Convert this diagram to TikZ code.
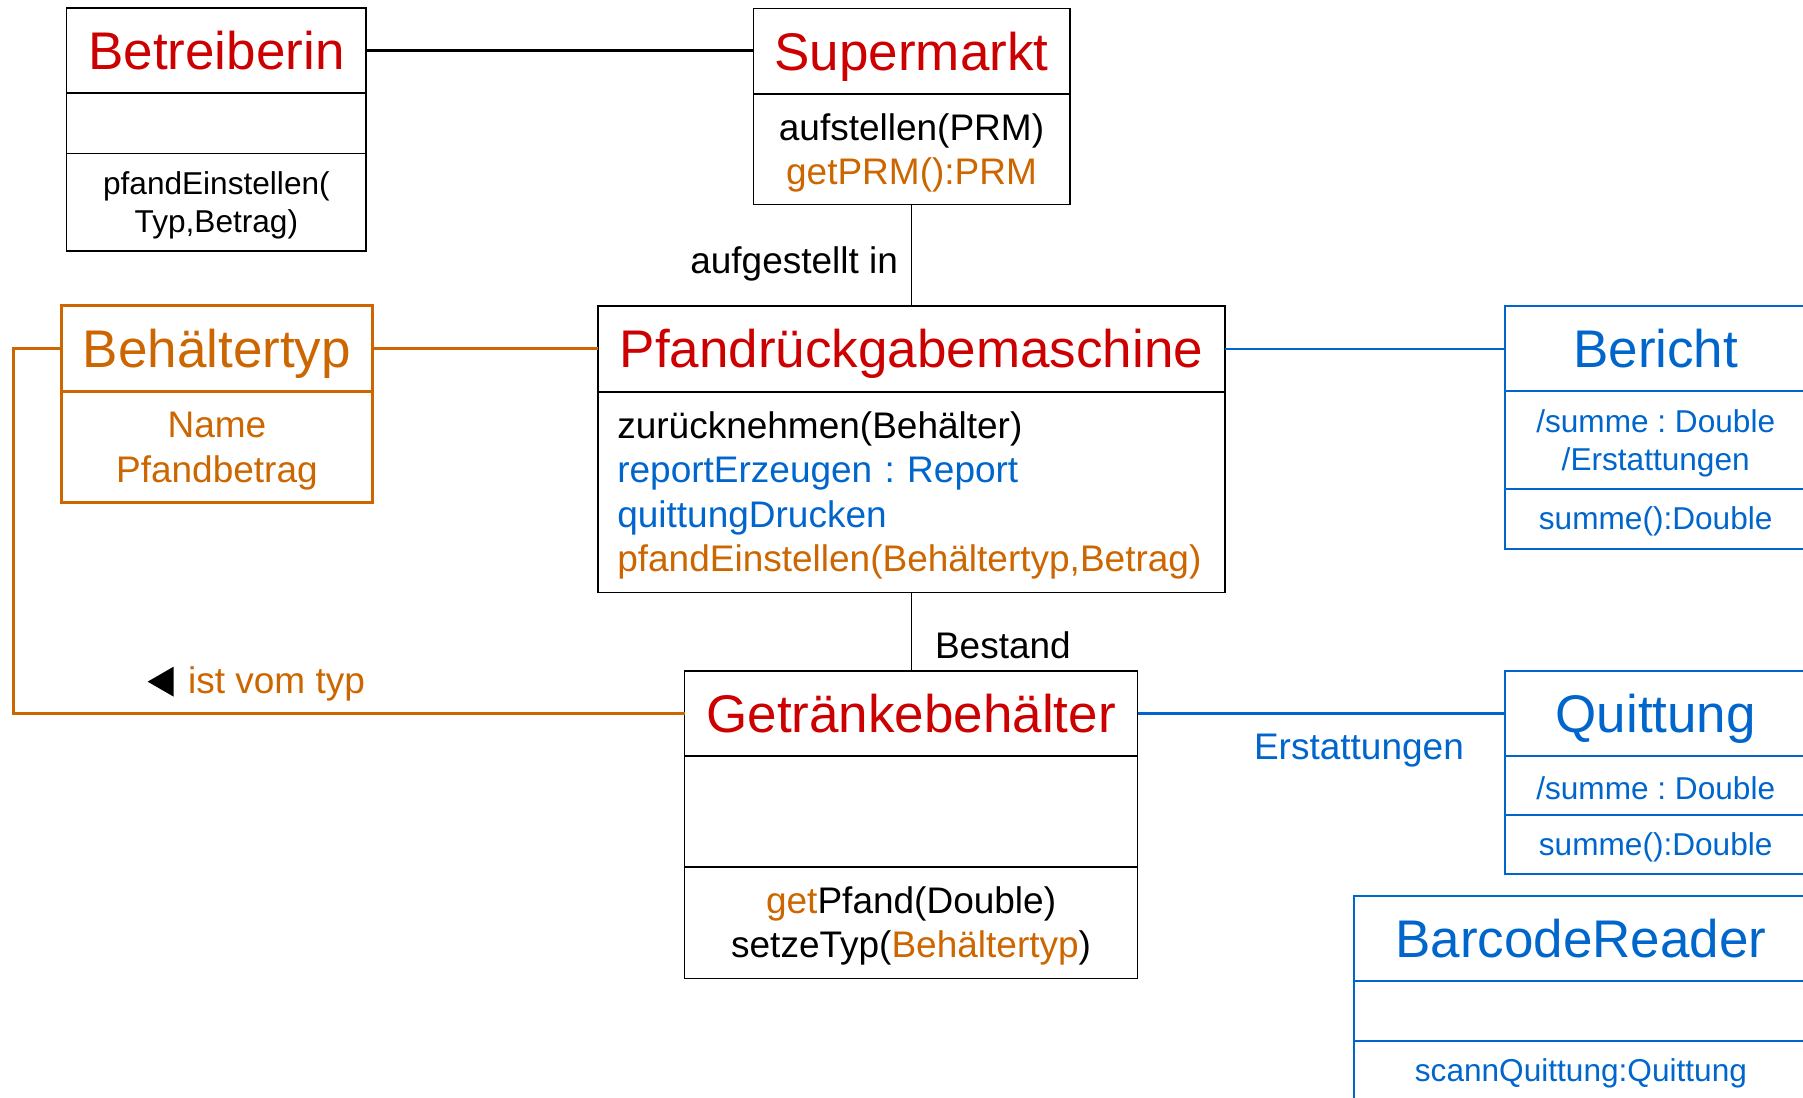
\documentclass[tikz,border=0pt]{standalone}
\usepackage{fontspec}
\setmainfont{Liberation Sans}
\usepackage{tikz}
\usetikzlibrary{positioning}

\definecolor{klassenrot}{HTML}{CC0000}
\definecolor{typorange}{HTML}{CC6600}
\definecolor{berichtblau}{HTML}{0066CC}

% Abstand oben in den Faechern
\newcommand{\fachstrut}{\rule{0pt}{34pt}}
\newcommand{\kleinstrut}{\rule{0pt}{29pt}}

\tikzset{
  kopf/.style={draw, outer sep=0pt, inner sep=0pt, text=klassenrot,
    font=\fontsize{53}{64}\selectfont, text height=38pt, text depth=0pt},
  fach/.style={draw, outer sep=0pt, inner sep=0pt, align=center,
    font=\fontsize{37}{44.5}\selectfont},
  klein/.style={font=\fontsize{31.6}{38}\selectfont},
  orangebox/.style={draw=typorange, text=typorange, line width=3pt},
  blaubox/.style={draw=berichtblau, text=berichtblau, line width=2pt},
  beschriftung/.style={inner sep=0pt, font=\fontsize{37}{44.5}\selectfont},
}

\begin{document}
\frenchspacing
\begin{tikzpicture}[x=1pt, y=-1pt, line width=1.6pt]
    \useasboundingbox (0,0) rectangle (1803,1097);
    \clip (0,0) rectangle (1803,1097);

    % Betreiberin
    \node[kopf, minimum width=299.6pt, minimum height=85pt] (betreiberin) at (216.4,50.8) {Betreiberin};
    \node[fach, minimum width=299.6pt, minimum height=60pt, below=0pt of betreiberin] (betreiberinAttr) {};
    \node[fach, klein, minimum width=299.6pt, minimum height=97.4pt, below=0pt of betreiberinAttr] (betreiberinOp) {\kleinstrut pfandEinstellen(\\Typ,Betrag)};

    % Supermarkt
    \node[kopf, minimum width=316.4pt, minimum height=85.7pt] (supermarkt) at (911.5,51.2) {Supermarkt};
    \node[fach, minimum width=316.4pt, minimum height=110.3pt, below=0pt of supermarkt] (supermarktOp) {\fachstrut aufstellen(PRM)\\\textcolor{typorange}{getPRM():PRM}};

    % Pfandrueckgabemaschine
    \node[kopf, minimum width=627.4pt, minimum height=85.7pt] (prm) at (911.5,348.9) {Pfandrückgabemaschine};
    \node[fach, text width=588.4pt, inner xsep=19.5pt, align=left, minimum height=200.6pt, below=0pt of prm] (prmOp) {\fachstrut zurücknehmen(Behälter)\\\textcolor{berichtblau}{reportErzeugen : Report}\\\textcolor{berichtblau}{quittungDrucken}\\\textcolor{typorange}{pfandEinstellen(Behältertyp,Betrag)}};

    % Behaeltertyp
    \node[kopf, orangebox, minimum width=310.9pt, minimum height=85.7pt] (typ) at (216.9,348.2) {Behältertyp};
    \node[fach, orangebox, minimum width=310.9pt, minimum height=111.3pt, below=0pt of typ] (typAttr) {\fachstrut Name\\Pfandbetrag};

    % Getraenkebehaelter
    \node[kopf, minimum width=452.9pt, minimum height=85.3pt] (behaelter) at (911.1,713.4) {Getränkebehälter};
    \node[fach, minimum width=452.9pt, minimum height=110.7pt, below=0pt of behaelter] (behaelterAttr) {};
    \node[fach, minimum width=452.9pt, minimum height=111.6pt, below=0pt of behaelterAttr] (behaelterOp) {\fachstrut\textcolor{typorange}{get}Pfand(Double)\\setzeTyp(\textcolor{typorange}{Behältertyp})};

    % Bericht
    \node[kopf, blaubox, minimum width=302pt, minimum height=85.3pt] (bericht) at (1655.7,348.7) {Bericht};
    \node[fach, blaubox, klein, minimum width=302pt, minimum height=97.6pt, below=0pt of bericht] (berichtAttr) {\kleinstrut/summe : Double\\/Erstattungen};
    \node[fach, blaubox, klein, minimum width=302pt, minimum height=59.6pt, below=0pt of berichtAttr] (berichtOp) {\kleinstrut summe():Double};

    % Quittung
    \node[kopf, blaubox, minimum width=302pt, minimum height=85.3pt] (quittung) at (1655.7,713.2) {Quittung};
    \node[fach, blaubox, klein, minimum width=302pt, minimum height=59.2pt, below=0pt of quittung] (quittungAttr) {\kleinstrut/summe : Double};
    \node[fach, blaubox, klein, minimum width=302pt, minimum height=59.3pt, below=0pt of quittungAttr] (quittungOp) {\kleinstrut summe():Double};

    % BarcodeReader
    \node[kopf, blaubox, minimum width=453pt, minimum height=85.3pt] (reader) at (1580.9,938.4) {BarcodeReader};
    \node[fach, blaubox, minimum width=453pt, minimum height=59.7pt, below=0pt of reader] (readerAttr) {};
    \node[fach, blaubox, klein, minimum width=453pt, minimum height=59.3pt, below=0pt of readerAttr] (readerOp) {\kleinstrut scannQuittung:Quittung};

    % Assoziationen schwarz
    \draw[line width=2.7pt] (betreiberin.east) -- (betreiberin.east -| supermarkt.west);
    \draw[line width=1pt] (supermarktOp.south) -- node[beschriftung, pos=0.59, left=13pt] {aufgestellt in} (supermarktOp.south |- prm.north);
    \draw[line width=1pt] (prmOp.south) -- node[beschriftung, pos=0.67, right=23pt] {Bestand} (prmOp.south |- behaelter.north);

    % Assoziationen orange
    \draw[typorange, line width=3pt] (typ.east) -- (typ.east -| prm.west);
    \draw[typorange, line width=3pt] (typ.west) -- ++(-48,0) |- node[beschriftung, text=typorange, pos=0.696, above=11pt] (istvomtyp) {ist vom typ} (behaelter.west);
    \fill ([xshift=-13pt, yshift=2pt]istvomtyp.west) -- ++(0,-15) -- ++(-26,15) -- ++(26,15) -- cycle;

    % Assoziationen blau
    \draw[berichtblau, line width=2.2pt] (prm.east) -- (prm.east -| bericht.west);
    \draw[berichtblau, line width=2.2pt] (behaelter.east) -- node[beschriftung, text=berichtblau, pos=0.603, below=20pt] {Erstattungen} (behaelter.east -| quittung.west);

\end{tikzpicture}
\end{document}
